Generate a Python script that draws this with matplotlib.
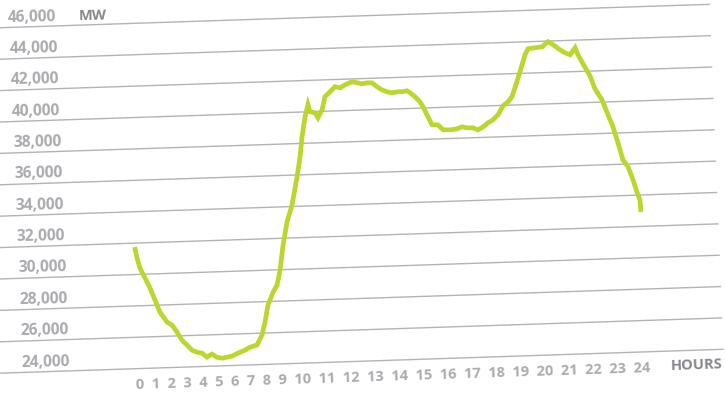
import matplotlib.pyplot as plt
import matplotlib.transforms as mtransforms
import numpy as np

plt.rcParams['font.family'] = ['Open Sans', 'DejaVu Sans']

# hourly system load, read along the day (hour, MW)
hours = [0.00, 0.09, 0.21, 0.43, 0.65, 0.86, 1.07, 1.39, 1.62, 1.84,
         2.06, 2.29, 2.52, 2.75, 2.98, 3.21, 3.45, 3.68, 3.92, 4.16,
         4.40, 4.68, 5.02, 5.26, 5.60, 5.85, 6.02, 6.19, 6.46, 6.66,
         6.83, 7.02, 7.25, 7.52, 7.81, 7.99, 8.12, 8.30, 8.46, 8.54,
         8.78, 8.91, 9.12, 9.28, 9.53, 9.77, 10.01, 10.25, 10.59, 10.82,
         11.06, 11.30, 11.53, 11.76, 11.99, 12.22, 12.46, 12.70, 12.93, 13.17,
         13.31, 13.54, 13.76, 13.90, 14.07, 14.29, 14.57, 14.80, 15.13, 15.46,
         15.70, 15.94, 16.22, 16.45, 16.70, 16.94, 17.18, 17.43, 17.68, 17.93,
         18.12, 18.28, 18.55, 18.82, 18.97, 19.30, 19.64, 19.93, 20.16, 20.48,
         20.71, 20.95, 21.20, 21.32, 21.54, 21.85, 22.06, 22.37, 22.63, 22.84,
         23.05, 23.25, 23.48, 23.69, 23.85, 23.98, 24.00]
load_mw = [31750, 31050, 30400, 29750, 29100, 28330, 27550, 26900, 26700, 26250,
           25720, 25400, 25060, 24920, 24850, 24590, 24770, 24560, 24490, 24540,
           24600, 24775, 24950, 25130, 25250, 25870, 26700, 27770, 28590, 29030,
           29980, 31570, 33030, 34100, 35880, 37150, 38420, 39690, 40450, 40000,
           39920, 39600, 40100, 40920, 41230, 41540, 41460, 41640, 41820, 41750,
           41670, 41720, 41710, 41450, 41240, 41110, 41030, 41090, 41080, 41130,
           41000, 40730, 40400, 40070, 39560, 38910, 38900, 38570, 38550, 38600,
           38720, 38640, 38630, 38490, 38670, 38920, 39100, 39410, 39970, 40215,
           40530, 41090, 42100, 43180, 43550, 43600, 43650, 43960, 43760, 43420,
           43220, 43080, 43520, 43070, 42480, 41700, 40860, 40150, 39180, 38400,
           37370, 36270, 35820, 34980, 34200, 33690, 32920]

grid_mw = list(range(24000, 46001, 2000))
y_labels = ['{:,}'.format(v) for v in grid_mw]
hour_labels = [str(h) for h in range(25)]

label_grey = '#aaaaaf'
title_grey = '#87878c'
line_green = '#bdd52f'

fig = plt.figure(figsize=(7.25, 3.96), dpi=100)
ax = fig.add_axes([0, 0, 1, 1])
ax.set_xlim(-6.336, 27.943)
ax.set_ylim(22533, 47788)
ax.axis('off')

# the sheet is photographed at a slight tilt: gridlines climb to the right,
# and things lower down drift a little to the right
kx, ky, yc = 0.04, 0.033, 166
tilt = mtransforms.Affine2D(np.array([[1 - kx * ky, -kx, kx * yc],
                                      [ky, 1, 0],
                                      [0, 0, 1]]))
tr = ax.transData + tilt
angle = np.degrees(np.arctan(ky))

for v, lab in zip(grid_mw, y_labels):
    ax.plot([-7.0, 27.65], [v, v], color='#b3b3b6', lw=1.0, transform=tr,
            solid_capstyle='butt')
    ax.text(-5.56, v + 630, lab, transform=tr, ha='left', va='center',
            fontsize=11.2, fontweight='bold', color=label_grey,
            rotation=1.0, rotation_mode='anchor')

ax.plot(hours, load_mw, color=line_green, lw=3.4, transform=tr,
        solid_joinstyle='miter', solid_capstyle='butt')

ax.text(-0.2, 22960, '  '.join(hour_labels), transform=tr, ha='left',
        va='center', fontsize=10.5, fontweight='bold', color=label_grey,
        rotation=angle, rotation_mode='anchor')
ax.text(25.09, 23048, 'HOURS', transform=tr, ha='left', va='center',
        fontsize=10.5, fontweight='bold', color=title_grey,
        rotation=angle, rotation_mode='anchor')
ax.text(-2.24, 46583, 'MW', transform=tr, ha='left', va='center',
        fontsize=10.5, fontweight='bold', color=title_grey,
        rotation=1.0, rotation_mode='anchor')

fig.savefig('out.png', dpi=100, facecolor='white')
